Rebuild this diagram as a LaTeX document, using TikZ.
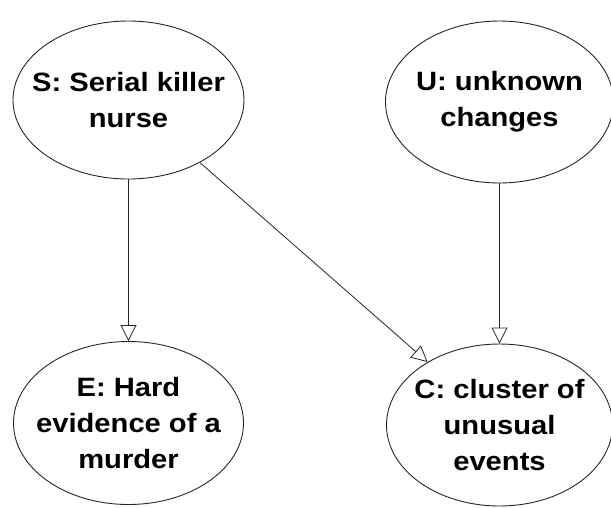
\documentclass[tikz,border=0pt]{standalone}
\usepackage{fontspec}
\newfontfamily\nodefont{Liberation Sans}[FakeStretch=1.1]
\usetikzlibrary{shapes.geometric, arrows.meta}

\begin{document}
\begin{tikzpicture}[x=1pt, y=-1pt,
    var/.style={ellipse, draw=black!85, line width=0.9pt, inner sep=0pt},
    txt/.style={align=center, inner sep=0pt,
                font=\nodefont\bfseries\fontsize{26.5}{36}\selectfont},
    cause/.style={draw=black!85, line width=0.8pt,
                  -{Triangle[open, length=16pt, width=16pt]}}]
    \useasboundingbox (0,0) rectangle (611,507);
    % Variablen
    \node[var, minimum width=231pt, minimum height=158pt,
          label={[txt]center:S: Serial killer\\nurse}] (S) at (128.5,100) {};
    \node[var, minimum width=228pt, minimum height=162pt,
          label={[txt]center:U: unknown\\changes}] (U) at (499.5,102) {};
    \node[var, minimum width=230pt, minimum height=163pt,
          label={[txt]center:E: Hard\\evidence of a\\murder}] (E) at (128.5,423) {};
    \node[var, minimum width=226pt, minimum height=162pt,
          label={[txt]center:C: cluster of\\unusual\\events}] (C) at (499.5,425) {};
    % Kanten
    \draw[cause] (S) -- (E); % S -> E
    \draw[cause] (S) -- (C); % S -> C
    \draw[cause] (U) -- (C); % U -> C
\end{tikzpicture}
\end{document}
